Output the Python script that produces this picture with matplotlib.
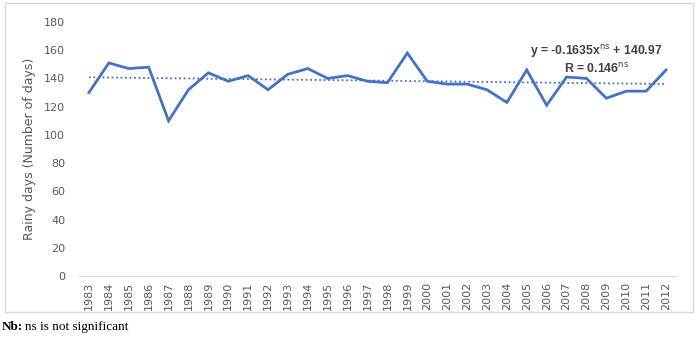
import numpy as np
import matplotlib
matplotlib.use('Agg')
import matplotlib.pyplot as plt
from matplotlib.patches import Rectangle

years = list(range(1983, 2013))
rainy_days = [130, 151, 147, 148, 110, 132, 144, 138, 142, 132,
              143, 147, 140, 142, 138, 137, 158, 138, 136, 136,
              132, 123, 146, 121, 141, 140, 126, 131, 131, 146]
trend_slope = -0.1635
trend_intercept = 140.97
y_ticks = list(range(0, 181, 20))

blue = '#4472C4'
grey_text = '#595959'

fig = plt.figure(figsize=(7.0, 3.4), dpi=100)

# chart frame
fig.patches.append(Rectangle((5 / 700, 1 - 312 / 340), 688 / 700, 309 / 340,
                             transform=fig.transFigure, fill=False,
                             edgecolor='#d9d9d9', linewidth=1.0))

ax = fig.add_axes([79 / 700, 1 - 276 / 340, 597 / 700, 254 / 340])

x = np.arange(len(years))
ax.plot(x, rainy_days, color=blue, linewidth=2.0, solid_joinstyle='miter')

# linear trend (x counted from 1 as in the spreadsheet)
trend = trend_slope * (x + 1) + trend_intercept
ax.plot(x, trend, color=blue, linewidth=1.3, linestyle=(0, (1, 1.5)))

ax.set_xlim(-0.5, len(years) - 0.5)
ax.set_ylim(0, 180)
ax.set_yticks(y_ticks)
ax.set_xticks(x)
ax.set_xticklabels([str(y) for y in years], rotation=90)

for side in ['top', 'right', 'left']:
    ax.spines[side].set_visible(False)
ax.spines['bottom'].set_color('#d9d9d9')
ax.tick_params(axis='both', length=0, colors=grey_text, labelsize=8)
ax.tick_params(axis='y', pad=10)
ax.tick_params(axis='x', pad=4)

ax.set_ylabel('Rainy days (Number of days)', color=grey_text, fontsize=9, labelpad=6)

eq_font = dict(ha='center', va='center', fontsize=8.8, fontweight='bold',
               color='#404040', fontfamily='Liberation Sans')
ax.text(25.5, 159, r'y = -0.1635x$^{\mathrm{ns}}$ + 140.97', **eq_font)
ax.text(25.5, 147, r'R = 0.146$^{\mathrm{ns}}$', **eq_font)

fig.text(2 / 700, 1 - 327 / 340, 'Nb:', fontfamily='Liberation Serif',
         fontweight='bold', fontsize=9.5, va='center')
fig.text(25 / 700, 1 - 327 / 340, 'ns is not significant', fontfamily='Liberation Serif',
         fontsize=9.5, va='center')

fig.savefig('out.png', dpi=100)
